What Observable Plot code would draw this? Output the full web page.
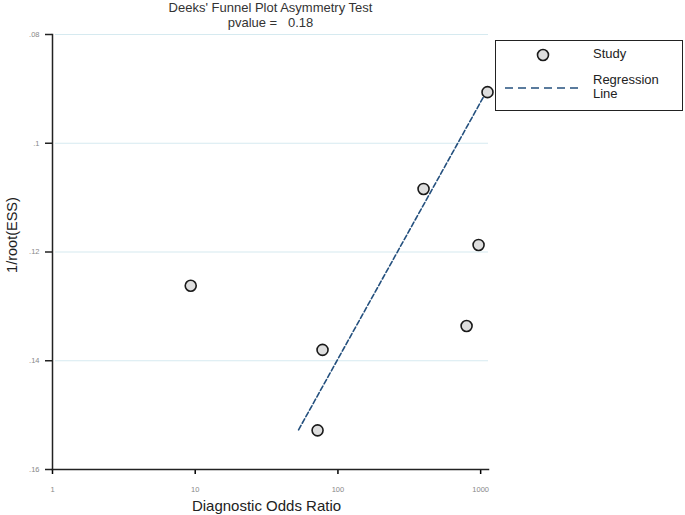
<!DOCTYPE html>
<html>
<head>
<meta charset="utf-8">
<script src="https://cdn.jsdelivr.net/npm/d3@7"></script>
<script src="https://cdn.jsdelivr.net/npm/@observablehq/plot@0.6"></script>
<style>
  body { margin: 0; background: #fff; }
  #wrap { position: relative; width: 685px; height: 515px; font-family: "Liberation Sans", Arial, sans-serif; }
  #legend { position: absolute; left: 495px; top: 40px; width: 186px; height: 69px; border: 1.5px solid #222; background: #fff; font-size: 13px; color: #222; }
  #legend .t { position: absolute; line-height: 14px; }
</style>
</head>
<body>
<div id="wrap"></div>
<script>
// Study points
const dor = [9.3, 78, 72, 398, 967, 797, 1117];
const invRootEss = [0.1262, 0.1380, 0.1528, 0.1084, 0.1187, 0.1336, 0.0906];
// Regression line endpoints
const regX = [53, 1082];
const regY = [0.1527, 0.0908];
// Ticks
const xTicks = [1, 10, 100, 1000];
const yTicks = [0.08, 0.10, 0.12, 0.14, 0.16];
const titleText = "Deeks' Funnel Plot Asymmetry Test";
const subtitleText = "pvalue =\u00a0\u00a0\u00a00.18";
const xLabel = "Diagnostic Odds Ratio";
const yLabel = "1/root(ESS)";

const studies = dor.map((d, i) => ({x: d, y: invRootEss[i]}));
const reg = regX.map((d, i) => ({x: d, y: regY[i]}));

const lineColor = "#24507e";

const chart = Plot.plot({
  width: 685,
  height: 515,
  marginLeft: 52,
  marginRight: 197,
  marginTop: 34,
  marginBottom: 46,
  style: {fontFamily: "Liberation Sans, Arial, sans-serif", background: "#fff"},
  x: {type: "log", domain: [1, 1135]},
  y: {domain: [0.08, 0.16], reverse: true},
  marks: [
    Plot.gridY(yTicks.slice(0, 4), {stroke: "#d6eaf0", strokeOpacity: 1, strokeWidth: 1.2, insetLeft: 3}),
    Plot.axisY({ticks: yTicks, tickFormat: d => String(+d.toFixed(2)).replace(/^0/, ""), tickSize: 7, tickPadding: 6, fontSize: 7.5, color: "#222", fill: "#888", strokeWidth: 1.5, label: null}),
    Plot.axisX({ticks: xTicks, tickFormat: d => String(d), tickSize: 5, tickPadding: 12, fontSize: 7.5, fill: "#888", strokeWidth: 1.5, label: null}),
    Plot.frame({anchor: "left", stroke: "#222", strokeWidth: 1.5}),
    Plot.frame({anchor: "bottom", stroke: "#222", strokeWidth: 1.5}),
    Plot.line(reg, {x: "x", y: "y", stroke: lineColor, strokeWidth: 1.6, strokeDasharray: "5,2.5"}),
    Plot.dot(studies, {x: "x", y: "y", r: 5.5, fill: "#dedede", stroke: "#1a1a1a", strokeWidth: 1.6}),
    Plot.text([titleText], {frameAnchor: "top", dy: -27, fontSize: 13, fill: "#333", lineAnchor: "middle", textAnchor: "middle"}),
    Plot.text([subtitleText], {frameAnchor: "top", dy: -12, fontSize: 13, fill: "#333", lineAnchor: "middle", textAnchor: "middle"}),
    Plot.text([xLabel], {frameAnchor: "bottom", dx: -4, dy: 37, fontSize: 15, fill: "#222", lineAnchor: "middle", textAnchor: "middle"}),
    Plot.text([yLabel], {frameAnchor: "left", dx: -40, dy: -17, rotate: -90, fontSize: 14.5, fill: "#222", lineAnchor: "middle", textAnchor: "middle"})
  ]
});
document.getElementById("wrap").appendChild(chart);

const legend = document.createElement("div");
legend.id = "legend";
legend.innerHTML = `
  <svg width="186" height="69" style="position:absolute;left:0;top:0">
    <circle cx="47" cy="14" r="5.5" fill="#dedede" stroke="#1a1a1a" stroke-width="1.6"></circle>
    <line x1="9" x2="86" y1="47" y2="47" stroke="${lineColor}" stroke-width="1.5" stroke-dasharray="8,5"></line>
  </svg>
  <div class="t" style="left:97px;top:6px">Study</div>
  <div class="t" style="left:97px;top:32px">Regression<br>Line</div>`;
document.getElementById("wrap").appendChild(legend);
</script>
</body>
</html>
